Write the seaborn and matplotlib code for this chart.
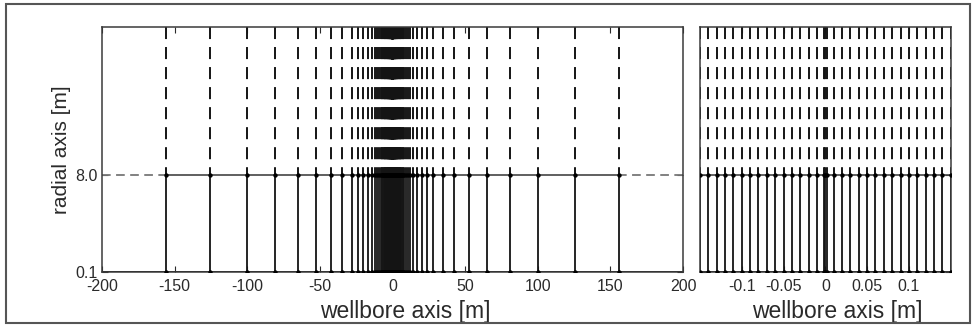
import numpy as np
import pandas as pd
import matplotlib
matplotlib.use('Agg')
import matplotlib.pyplot as plt
from matplotlib.patches import Rectangle
import seaborn as sns

# grid node positions along the wellbore axis [m] (positive half, grid is symmetric about 0)
far_nodes = [0.17, 0.19, 0.22, 0.25, 0.28, 0.32, 0.36, 0.41, 0.46, 0.52, 0.59, 0.67, 0.76,
             0.86, 0.97, 1.1, 1.25, 1.42, 1.6, 1.8, 2.0, 2.2, 2.45, 2.7, 3.0, 3.3, 3.65,
             4.0, 4.4, 4.85, 5.35, 5.9, 6.5, 7.2, 8.0, 9.2, 10.6, 12.3, 14.4, 17.0, 20.0,
             23.5, 28.0, 34.5, 42.3, 52.5, 65.0, 80.7, 100.5, 125.4, 156.0]
near_nodes = [0.0, 0.002, 0.01, 0.02, 0.03, 0.04, 0.05, 0.06, 0.07, 0.08, 0.09, 0.10,
              0.11, 0.12, 0.13, 0.14, 0.15]
# radial levels [m]
r_bottom = 0.1
r_mid = 8.0
r_top = 20.0

left_xticks = [-200, -150, -100, -50, 0, 50, 100, 150, 200]
right_xticks = [-0.1, -0.05, 0, 0.05, 0.1]
right_xticklabels = ['-0.1', '-0.05', '0', '0.05', '0.1']
yticks = [r_bottom, r_mid]
yticklabels = ['0.1', '8.0']

pos = np.array(sorted(set(near_nodes + far_nodes)))
nodes = np.concatenate([-pos[::-1], pos[1:]])
near = np.array(near_nodes)
near = np.concatenate([-near[::-1], near[1:]])

sns.set_theme(style='white')
plt.rcParams['font.family'] = ['Liberation Sans', 'DejaVu Sans']
plt.rcParams['axes.unicode_minus'] = False

fig = plt.figure(figsize=(9.75, 3.26), dpi=100)
ax1 = fig.add_axes([102/975, 1-272.3/326, 581/975, 245.6/326])
ax2 = fig.add_axes([700/975, 1-272.3/326, 250.7/975, 245.6/326])

line_c = '#141414'
text_c = '#2a2a2a'


def draw_grid(ax, xs, x_lo, x_hi):
    ax.vlines(xs, r_bottom, r_mid, color=line_c, lw=1.3)
    ax.vlines(xs, r_top, r_mid, color=line_c, lw=1.4, linestyles=[(0, (6.2, 4.1))])
    ax.hlines(r_mid, xs.min(), xs.max(), color='#444444', lw=1.2)
    ax.hlines(r_bottom, x_lo, x_hi, color='#222222', lw=1.4)
    if x_lo < xs.min():
        ax.hlines(r_mid, x_lo, xs.min(), color='#777777', lw=1.3, linestyles=[(0, (4.8, 3.0))])
        ax.hlines(r_mid, x_hi, xs.max(), color='#777777', lw=1.3, linestyles=[(0, (4.8, 3.0))])
    pts = pd.DataFrame({'x': np.concatenate([xs, xs]),
                        'r': [r_bottom] * len(xs) + [r_mid] * len(xs)})
    sns.scatterplot(data=pts, x='x', y='r', ax=ax, color='black', s=10,
                    linewidth=0, zorder=5, legend=False)
    ax.set_xlim(x_lo, x_hi)
    ax.set_ylim(r_bottom, r_top)
    ax.set_yticks(yticks)
    ax.tick_params(direction='in', length=4, width=0.8, top=True, right=True,
                   bottom=True, left=True, labelsize=11.5, colors=text_c)
    ax.tick_params(axis='x', pad=5)
    ax.tick_params(axis='y', pad=3)
    for s in ax.spines.values():
        s.set_color('#3a3a3a')
        s.set_linewidth(1.1)
    ax.set_xlabel('wellbore axis [m]', fontsize=16.5, color=text_c, va='center')


draw_grid(ax1, nodes, -200, 200)
ax1.set_xticks(left_xticks)
ax1.set_xticklabels([str(t) for t in left_xticks])
ax1.set_yticklabels(yticklabels)
ax1.set_ylabel('radial axis [m]', fontsize=15, color=text_c, va='center', ha='center')
ax1.yaxis.set_label_coords(-0.0694, 0.5)
ax1.xaxis.set_label_coords(0.5215, -0.160)

draw_grid(ax2, near, -0.15, 0.15)
ax2.set_xticks(right_xticks)
ax2.set_xticklabels(right_xticklabels)
ax2.set_yticklabels([])
ax2.set_ylabel('')
ax2.xaxis.set_label_coords(0.548, -0.160)

# outer frame
fig.patches.append(Rectangle((6/975, 1-322.7/326), 964/975, 318.7/326,
                             transform=fig.transFigure, fill=False,
                             edgecolor='#555555', lw=1.5))

fig.savefig('out.png', dpi=100)
